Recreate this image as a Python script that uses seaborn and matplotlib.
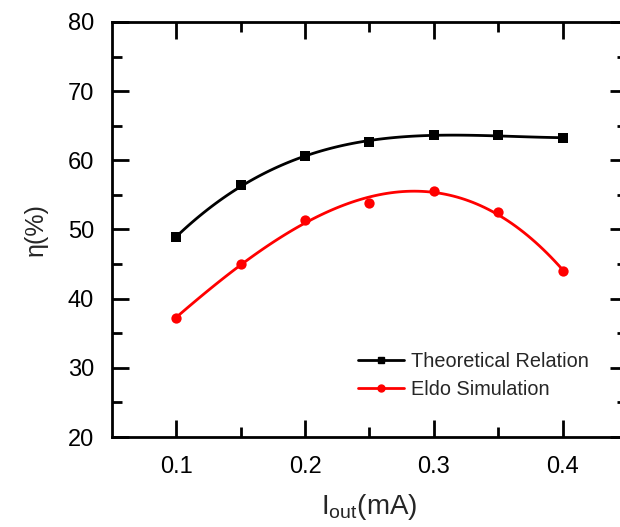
import numpy as np
import pandas as pd
import matplotlib
matplotlib.use("Agg")
import matplotlib.pyplot as plt
from matplotlib.lines import Line2D
import seaborn as sns

# data
i_out = [0.10, 0.15, 0.20, 0.25, 0.30, 0.35, 0.40]
eta_theory = [48.9, 56.4, 60.6, 62.7, 63.6, 63.7, 63.2]
eta_eldo = [37.2, 45.0, 51.4, 53.9, 55.5, 52.5, 44.0]
series_names = ["Theoretical Relation", "Eldo Simulation"]
x_ticks = [0.1, 0.2, 0.3, 0.4]
y_ticks = [20, 30, 40, 50, 60, 70, 80]

sns.set_style("ticks")
plt.rcParams["font.family"] = ["Liberation Sans", "DejaVu Sans"]

fig = plt.figure(figsize=(6.2, 5.27), dpi=100)
ax = fig.add_axes([112 / 620, 90 / 527, 515 / 620, 415 / 527])

df1 = pd.DataFrame({"x": i_out, "y": eta_theory})
df2 = pd.DataFrame({"x": i_out, "y": eta_eldo})

sns.regplot(data=df1, x="x", y="y", order=3, ci=None, scatter=False, ax=ax,
            line_kws=dict(color="black", lw=2.0))
sns.regplot(data=df2, x="x", y="y", order=3, ci=None, scatter=False, ax=ax,
            line_kws=dict(color="red", lw=2.0))
sns.scatterplot(data=df1, x="x", y="y", marker="s", color="black", s=45,
                edgecolor="black", linewidth=0, ax=ax, zorder=3)
sns.scatterplot(data=df2, x="x", y="y", marker="o", color="red", s=55,
                edgecolor="red", linewidth=0, ax=ax, zorder=3)

ax.set_xlim(0.05, 0.45)
ax.set_ylim(20, 80)
ax.set_xticks(x_ticks)
ax.set_xticklabels([f"{t:.1f}" for t in x_ticks])
ax.set_yticks(y_ticks)
ax.set_xticks(np.arange(0.15, 0.45, 0.1), minor=True)
ax.set_yticks(np.arange(25, 80, 10), minor=True)

for s in ax.spines.values():
    s.set_linewidth(2.0)
    s.set_color("black")
ax.tick_params(which="both", direction="in", top=True, right=True,
               width=2.0, colors="black", labelsize=17)
ax.tick_params(which="major", length=12)
ax.tick_params(axis="x", which="major", pad=14)
ax.tick_params(axis="y", which="major", pad=13)
ax.tick_params(which="minor", length=7)

ax.set_xlabel(r"I$_{\mathregular{out}}$(mA)", fontsize=20, labelpad=10)
ax.set_ylabel("η(%)", fontsize=18, labelpad=14)

handles = [
    Line2D([], [], color="black", lw=2.0, marker="s", markersize=4.5),
    Line2D([], [], color="red", lw=2.0, marker="o", markersize=5),
]
ax.legend(handles, series_names, loc="center left", bbox_to_anchor=(0.478, 0.148),
          frameon=False, fontsize=14.3, handlelength=2.3, handletextpad=0.35,
          labelspacing=0.45, borderpad=0, borderaxespad=0)

fig.savefig("out.png", dpi=100)
